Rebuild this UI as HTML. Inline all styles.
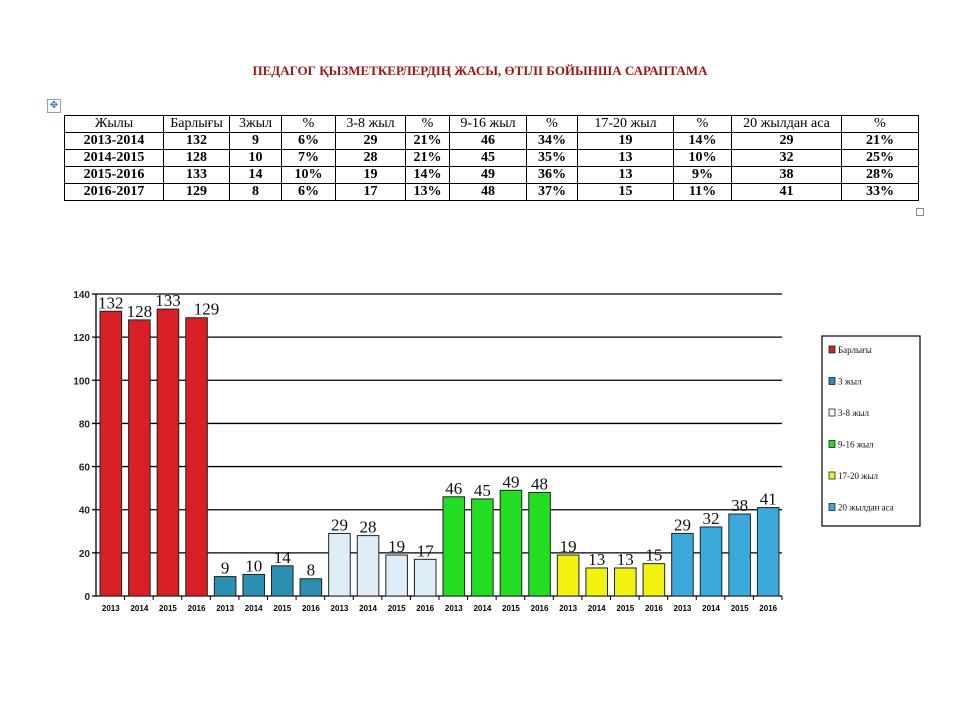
<!DOCTYPE html>
<html><head><meta charset="utf-8"><style>
body{margin:0;width:960px;height:720px;background:#fff;position:relative;overflow:hidden;font-family:"Liberation Serif",serif}
#title{position:absolute;top:63px;left:0;width:960px;text-align:center;color:#a01616;font-weight:bold;font-size:13px;padding-left:0}
table{position:absolute;left:64px;top:115px;border-collapse:collapse;font-size:14px}
td{border:1.5px solid #000;text-align:center;height:16px;padding:0;line-height:16px}
tr.b td{font-weight:bold}
#mv{position:absolute;left:47px;top:99px;width:12px;height:12px;border:1px solid #8aa;font-size:10px;line-height:11px;text-align:center;color:#36c}
#rs{position:absolute;left:916px;top:208px;width:6px;height:6px;border:1px solid #888}
svg{position:absolute;left:0;top:0}
</style></head><body>
<div id="title">ПЕДАГОГ ҚЫЗМЕТКЕРЛЕРДІҢ ЖАСЫ, ӨТІЛІ БОЙЫНША САРАПТАМА</div>
<div id="mv">✥</div>
<table>
<tr><td style="width:98px">Жылы</td><td style="width:65px">Барлығы</td><td style="width:51px">3жыл</td><td style="width:53px">%</td><td style="width:69px">3-8 жыл</td><td style="width:43px">%</td><td style="width:76px">9-16 жыл</td><td style="width:50px">%</td><td style="width:95px">17-20 жыл</td><td style="width:57px">%</td><td style="width:109px">20 жылдан аса</td><td style="width:76px">%</td></tr>
<tr class="b"><td>2013-2014</td><td>132</td><td>9</td><td>6%</td><td>29</td><td>21%</td><td>46</td><td>34%</td><td>19</td><td>14%</td><td>29</td><td>21%</td></tr>
<tr class="b"><td>2014-2015</td><td>128</td><td>10</td><td>7%</td><td>28</td><td>21%</td><td>45</td><td>35%</td><td>13</td><td>10%</td><td>32</td><td>25%</td></tr>
<tr class="b"><td>2015-2016</td><td>133</td><td>14</td><td>10%</td><td>19</td><td>14%</td><td>49</td><td>36%</td><td>13</td><td>9%</td><td>38</td><td>28%</td></tr>
<tr class="b"><td>2016-2017</td><td>129</td><td>8</td><td>6%</td><td>17</td><td>13%</td><td>48</td><td>37%</td><td>15</td><td>11%</td><td>41</td><td>33%</td></tr>
</table>
<div id="rs"></div>
<svg id="chart" width="960" height="720"></svg>
<script>
const years=["2013","2014","2015","2016"];
const seriesNames=["Барлығы","3 жыл","3-8 жыл","9-16 жыл","17-20 жыл","20 жылдан аса"];
const totalVals=[132,128,133,129];
const y3Vals=[9,10,14,8];
const y38Vals=[29,28,19,17];
const y916Vals=[46,45,49,48];
const y1720Vals=[19,13,13,15];
const y20Vals=[29,32,38,41];
const yTicks=[0,20,40,60,80,100,120,140];
const colors=["#d81f26","#2a8fb0","#ddeef6","#22dd22","#f2f211","#3aa9dc"];
const all=[totalVals,y3Vals,y38Vals,y916Vals,y1720Vals,y20Vals];
const svg=document.getElementById('chart');const NS="http://www.w3.org/2000/svg";
const X0=96,X1=782,Y0=596,Y1=294,VMAX=140;
const n=24,slot=(X1-X0)/n;
const yS=v=>Y0-(v/VMAX)*(Y0-Y1);
const xS=i=>X0+slot*i;
function mk(t,a,p){const e=document.createElementNS(NS,t);for(const k in a)e.setAttribute(k,a[k]);(p||svg).appendChild(e);return e;}
yTicks.forEach(t=>{
 const l=mk('line',{x1:X0-4,x2:X1,y1:yS(t),y2:yS(t),stroke:'#000','stroke-width':1.3});
 
 
 const tx=mk('text',{x:X0-6,y:yS(t)+4,'text-anchor':'end','font-size':10,'font-weight':'bold','font-family':'Liberation Sans,sans-serif',fill:'#222'});tx.textContent=t;
 
 
});
mk('line',{x1:X0,x2:X0,y1:Y1,y2:Y0,stroke:'#000','stroke-width':1.3});
all.forEach((vals,s)=>{vals.forEach((v,j)=>{
 const i=s*4+j;const x=xS(i)+4,w=slot-7;
 const r=mk('rect',{x:x,y:yS(v),width:w,height:Y0-yS(v),fill:colors[s],stroke:'#222','stroke-width':1});
 
 
 const t=mk('text',{x:x+w/2+(s==0&&j==3?10:0),y:yS(v)-3,'text-anchor':'middle','font-size':17,fill:'#111'});t.textContent=v;
 
 
 const tk=mk('line',{x1:xS(i)+slot,x2:xS(i)+slot,y1:Y0,y2:Y0+4,stroke:'#000'});
 const yl=mk('text',{x:x+w/2,y:Y0+15,'text-anchor':'middle','font-size':8,'font-weight':'bold','font-family':'Liberation Sans,sans-serif'});yl.textContent=years[j];
 
 
});});
const lg=mk('g',{});


mk('rect',{x:822,y:336,width:98,height:190,fill:'#fff',stroke:'#000','stroke-width':1.2},lg);
seriesNames.forEach((nm,k)=>{const y=352+k*31.5;
 const sw=mk('rect',{x:829,y:y-6,width:6,height:7,fill:k==2?'#fff':colors[k],stroke:'#222','stroke-width':0.8},lg);
 const t=mk('text',{x:838,y:y+1,'font-size':9,fill:'#111'},lg);t.textContent=nm;
 
 
});
</script>
</body></html>
